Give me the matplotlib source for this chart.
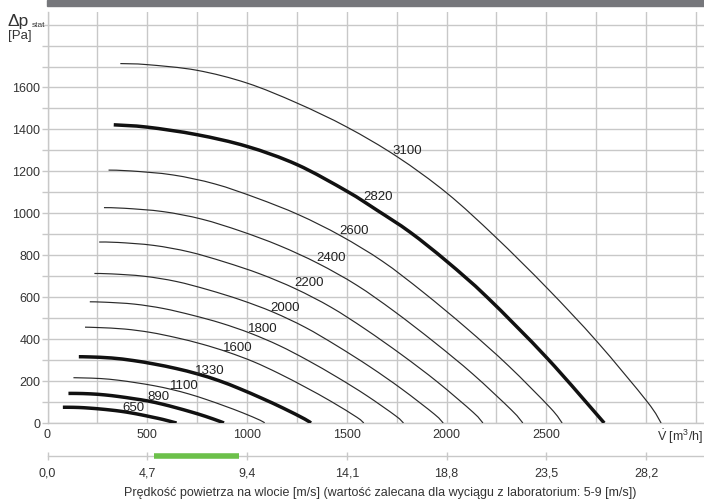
"""
Fan curves: static pressure vs. air flow for several fan speeds,
with an extra scale for inlet air velocity underneath.
"""
import numpy as np
import matplotlib
matplotlib.use("Agg")
import matplotlib.pyplot as plt
from matplotlib.patches import Rectangle, PathPatch
from matplotlib.path import Path
from matplotlib.ticker import MultipleLocator, FixedLocator, FuncFormatter

plt.rcParams["font.family"] = ["Liberation Sans", "DejaVu Sans"]
plt.rcParams["mathtext.fontset"] = "custom"
plt.rcParams["mathtext.rm"] = "Liberation Sans"
plt.rcParams["mathtext.it"] = "Liberation Sans:italic"

# curves: flow [m3/h], static pressure [Pa]
q_3100 = [365, 499, 749, 1000, 1250, 1501, 1752, 2002, 2243, 2504, 2754, 3005, 3075]
p_3100 = [1714, 1709, 1682, 1621, 1526, 1411, 1270, 1096, 889, 643, 388, 102, 0]
q_2820 = [332, 499, 749, 1000, 1251, 1501, 1651, 1817, 2002, 2203, 2504, 2790]
p_2820 = [1422, 1411, 1375, 1319, 1232, 1105, 1015, 910, 770, 600, 309, 0]
q_2600 = [306, 419, 628, 839, 1048, 1259, 1469, 1679, 1881, 2100, 2310, 2520, 2579]
p_2600 = [1206, 1202, 1183, 1140, 1073, 993, 893, 771, 625, 452, 273, 72, 0]
q_2400 = [283, 386, 580, 774, 968, 1162, 1356, 1550, 1737, 1939, 2132, 2326, 2382]
p_2400 = [1027, 1024, 1008, 972, 915, 846, 761, 657, 533, 385, 233, 61, 0]
q_2200 = [259, 354, 532, 710, 887, 1065, 1243, 1421, 1592, 1777, 1955, 2133, 2182]
p_2200 = [863, 861, 847, 816, 768, 711, 640, 552, 448, 324, 195, 51, 0]
q_2000 = [235, 322, 483, 645, 806, 968, 1130, 1292, 1447, 1616, 1777, 1939, 1983]
p_2000 = [713, 711, 700, 675, 635, 587, 529, 456, 370, 268, 161, 42, 0]
q_1800 = [212, 290, 435, 581, 726, 871, 1017, 1162, 1302, 1454, 1599, 1745, 1784]
p_1800 = [578, 576, 567, 546, 514, 476, 428, 369, 300, 217, 131, 34, 0]
q_1600 = [188, 258, 387, 516, 645, 775, 904, 1033, 1158, 1292, 1421, 1551, 1585]
p_1600 = [457, 455, 448, 432, 407, 376, 338, 292, 237, 171, 103, 27, 0]
q_1330 = [157, 214, 321, 429, 536, 644, 752, 859, 962, 1074, 1181, 1289, 1320]
p_1330 = [316, 315, 310, 298, 281, 260, 234, 202, 164, 118, 71, 19, 0]
q_1100 = [130, 177, 266, 355, 444, 533, 622, 710, 796, 888, 977, 1066, 1088]
p_1100 = [216, 215, 212, 204, 192, 178, 160, 138, 112, 81, 49, 13, 0]
q_890 = [105, 143, 215, 287, 359, 431, 503, 575, 644, 719, 791, 863, 884]
p_890 = [141, 141, 139, 134, 126, 116, 105, 90, 73, 53, 32, 8, 0]
q_650 = [77, 105, 157, 210, 262, 315, 367, 420, 470, 525, 578, 630, 647]
p_650 = [75, 75, 74, 71, 67, 62, 56, 48, 39, 28, 17, 4, 0]

speeds = [3100, 2820, 2600, 2400, 2200, 2000, 1800, 1600, 1330, 1100, 890, 650]
thick_speeds = [2820, 1330, 890, 650]
# where the speed label sits (flow, pressure)
label_q = [1802, 1657, 1536, 1421, 1311, 1190, 1080, 955, 815, 684, 554, 429]
label_p = [1298, 1079, 916, 788, 668, 549, 449, 358, 248, 177, 124, 72]

curves = [(q_3100, p_3100), (q_2820, p_2820), (q_2600, p_2600), (q_2400, p_2400),
          (q_2200, p_2200), (q_2000, p_2000), (q_1800, p_1800), (q_1600, p_1600),
          (q_1330, p_1330), (q_1100, p_1100), (q_890, p_890), (q_650, p_650)]

# inlet velocity scale: 4,7 m/s corresponds to 500 m3/h
v_per_q = 4.7 / 500
v_ticks = [0.0, 4.7, 9.4, 14.1, 18.8, 23.5, 28.2]
v_recommended = [5, 9]

Q_MAX = 3290
P_MAX = 1960
GRID = "#c8c8c8"
TXT = "#333333"


def smooth_path(q, p):
    # bezier segments through every read point (catmull-rom style handles)
    pts = np.column_stack([q, p]).astype(float)
    n = len(pts)
    verts = [pts[0]]
    codes = [Path.MOVETO]
    for i in range(n - 1):
        a = pts[i - 1] if i > 0 else pts[i]
        b = pts[i]
        c = pts[i + 1]
        d = pts[i + 2] if i + 2 < n else pts[i + 1]
        verts += [b + (c - a) / 6, c - (d - b) / 6, c]
        codes += [Path.CURVE4] * 3
    return Path(verts, codes)


fig = plt.figure(figsize=(7.04, 5.01), dpi=100)
ax = fig.add_axes([47.5 / 704, 78 / 501, 656.5 / 704, 411 / 501])

for speed, (q, p), lq, lp in zip(speeds, curves, label_q, label_p):
    if speed in thick_speeds:
        style = dict(edgecolor="#111111", lw=2.5, capstyle="butt")
    else:
        style = dict(edgecolor="#2a2a2a", lw=0.85)
    ax.add_patch(PathPatch(smooth_path(q, p), fill=False, zorder=3, **style))
    ax.text(lq, lp, str(speed), fontsize=9.5, color="#222222",
            ha="center", va="center", zorder=4)

ax.set_xlim(0, Q_MAX)
ax.set_ylim(0, P_MAX)
ax.xaxis.set_major_locator(FixedLocator([0, 500, 1000, 1500, 2000, 2500]))
ax.xaxis.set_minor_locator(MultipleLocator(250))
ax.yaxis.set_major_locator(FixedLocator(list(range(0, 1700, 200))))
ax.yaxis.set_minor_locator(MultipleLocator(100))
ax.grid(which="both", color=GRID, lw=1.0, zorder=0)
ax.set_axisbelow(True)
for side in ["top", "right"]:
    ax.spines[side].set_visible(False)
for side in ["left", "bottom"]:
    ax.spines[side].set_color(GRID)
    ax.spines[side].set_linewidth(1.0)
ax.tick_params(axis="x", which="both", length=0, pad=4, labelsize=9, labelcolor=TXT)
ax.tick_params(axis="y", which="both", length=4, width=1.0, color=GRID,
               pad=1, labelsize=9, labelcolor=TXT)

# velocity scale below the main axes
ax2 = fig.add_axes([47.5 / 704, 45 / 501, 656.5 / 704, 0.02])
ax2.set_xlim(0, Q_MAX * v_per_q)
ax2.set_ylim(0, 1)
for side in ["top", "right", "left"]:
    ax2.spines[side].set_visible(False)
ax2.spines["bottom"].set_color(GRID)
ax2.spines["bottom"].set_linewidth(1.0)
ax2.set_yticks([])
ax2.patch.set_visible(False)
ax2.xaxis.set_major_locator(FixedLocator(v_ticks))
ax2.xaxis.set_major_formatter(FuncFormatter(lambda v, _: f"{v:.1f}".replace(".", ",")))
ax2.tick_params(axis="x", direction="inout", length=6, width=1.0, color=GRID,
                pad=5, labelsize=9, labelcolor=TXT)
ax2.plot(v_recommended, [0, 0], color="#6cc04a", lw=4, solid_capstyle="butt",
         clip_on=False, zorder=5)

# texts around the plot
fig.text(8 / 704, 1 - 26 / 501, "Δp", fontsize=12.5, color=TXT,
         va="baseline", ha="left")
fig.text(32 / 704, 1 - 27 / 501, "stat", fontsize=6, color=TXT,
         va="baseline", ha="left")
fig.text(8 / 704, 1 - 39 / 501, "[Pa]", fontsize=9.5, color=TXT,
         va="baseline", ha="left")
fig.text(703 / 704, 1 - 437 / 501, r"$\dot{\mathrm{V}}$ [m$^3$/h]", fontsize=9,
         color=TXT, ha="right", va="center")
fig.text(380 / 704, 1 - 493 / 501,
         "Prędkość powietrza na wlocie [m/s] (wartość zalecana dla wyciągu z laboratorium: 5-9 [m/s])",
         fontsize=9, color=TXT, ha="center", va="center")

fig.patches.append(Rectangle((47 / 704, 1 - 6 / 501), 1, 6 / 501,
                             transform=fig.transFigure, color="#76777b", zorder=10))

fig.savefig("out.png", dpi=100)
